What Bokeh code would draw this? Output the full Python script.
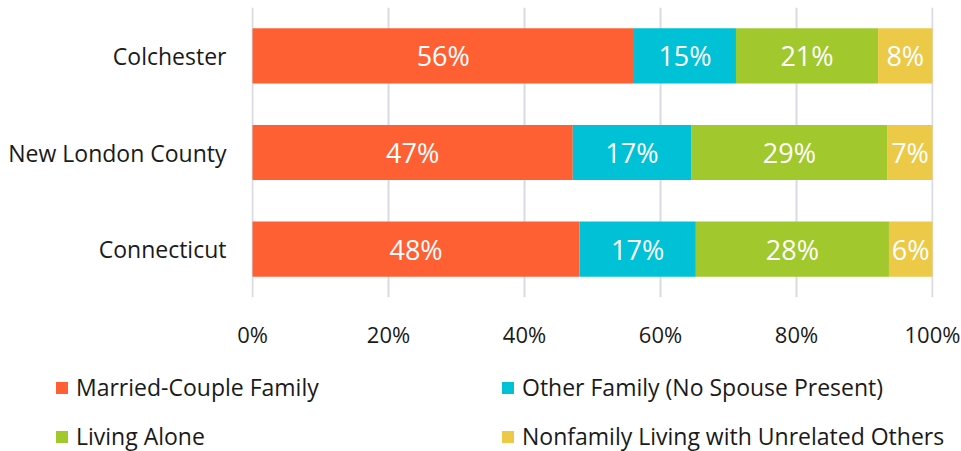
from bokeh.plotting import figure
from bokeh.layouts import column
from bokeh.models import ColumnDataSource, Legend, LegendItem, FixedTicker, FactorRange, Range1d
from bokeh.core.properties import value
from bokeh.embed import file_html
from bokeh.resources import INLINE

places = ["Colchester", "New London County", "Connecticut"]
married = [56.1, 47.1, 48.1]
other_family = [15.0, 17.4, 17.1]
living_alone = [20.9, 28.9, 28.4]
nonfamily = [8.0, 6.6, 6.4]

series_keys = ["married", "other_family", "living_alone", "nonfamily"]
series_names = ["Married-Couple Family", "Other Family (No Spouse Present)",
                "Living Alone", "Nonfamily Living with Unrelated Others"]
colors = ["#FF6033", "#00C1D5", "#A1C82C", "#ECC946"]
x_ticks = [0, 20, 40, 60, 80, 100]
x_tick_labels = ["0%", "20%", "40%", "60%", "80%", "100%"]

FONT = "Open Sans"
TEXT = "#1a1a1a"

data = dict(place=places, married=married, other_family=other_family,
            living_alone=living_alone, nonfamily=nonfamily)
source = ColumnDataSource(data)

p = figure(y_range=FactorRange(*reversed(places)), x_range=Range1d(-0.15, 100.15),
           frame_width=682, frame_height=290,
           min_border_left=251, min_border_right=28, min_border_top=7, min_border_bottom=55,
           output_backend="svg", toolbar_location=None)
p.frame_align = False
p.outline_line_color = None
p.background_fill_color = "white"
p.border_fill_color = "white"

renderers = p.hbar_stack(series_keys, y="place", height=0.57, color=colors,
                         line_color=None, source=source)

# segment labels
lx, ly, lt = [], [], []
for i, pl in enumerate(places):
    start = 0.0
    for key in series_keys:
        v = data[key][i]
        lx.append(start + v / 2.0)
        ly.append(pl)
        lt.append(f"{round(v)}%")
        start += v
lab_src = ColumnDataSource(dict(x=lx, y=ly, t=lt))
p.text(x="x", y="y", text="t", source=lab_src, text_align="center",
       text_baseline="middle", text_color="white", text_font=value(FONT),
       text_font_size="27px")

# axes
p.xaxis.ticker = FixedTicker(ticks=x_ticks)
p.xaxis.major_label_overrides = {t: l for t, l in zip(x_ticks, x_tick_labels)}
p.xaxis.axis_line_color = None
p.xaxis.major_tick_line_color = None
p.xaxis.minor_tick_line_color = None
p.xaxis.major_tick_out = 0
p.xaxis.major_label_standoff = 21
p.xaxis.major_label_text_font = FONT
p.xaxis.major_label_text_font_size = "22px"
p.xaxis.major_label_text_color = TEXT

p.yaxis.axis_line_color = None
p.yaxis.major_tick_line_color = None
p.yaxis.major_tick_out = 0
p.yaxis.major_label_standoff = 25
p.yaxis.major_label_text_font = FONT
p.yaxis.major_label_text_font_size = "23px"
p.yaxis.major_label_text_color = TEXT

p.xgrid.ticker = FixedTicker(ticks=x_ticks)
p.xgrid.grid_line_color = "#D9DBE2"
p.xgrid.grid_line_width = 2
p.ygrid.grid_line_color = None

# legend panel below the chart (its own full-width frame)
leg_fig = figure(width=961, height=451 - p.min_border_top - 290 - p.min_border_bottom,
                 x_range=Range1d(0, 1), y_range=Range1d(0, 1),
                 x_axis_type=None, y_axis_type=None, min_border=0,
                 output_backend="svg", toolbar_location=None)
leg_fig.frame_align = False
leg_fig.outline_line_color = None
leg_fig.grid.visible = False
swatches = []
for c in colors:
    # legend swatches only; kept outside the visible range
    swatches.append(leg_fig.hbar(y=[-5], right=[-5], height=0.5, color=c, line_color=None))

legend = Legend(items=[LegendItem(label=n, renderers=[r]) for n, r in zip(series_names, swatches)],
                orientation="horizontal", ncols=2,
                location=(54, -1), margin=0, padding=0, spacing=17,
                glyph_width=15, glyph_height=15, label_height=31, label_width=407,
                label_standoff=7, label_text_font=FONT, label_text_font_size="23px",
                label_text_color=TEXT, border_line_color=None, background_fill_alpha=0)
leg_fig.add_layout(legend, "center")

layout = column(p, leg_fig, spacing=0)
open("out.html", "w").write(file_html(layout, INLINE))
